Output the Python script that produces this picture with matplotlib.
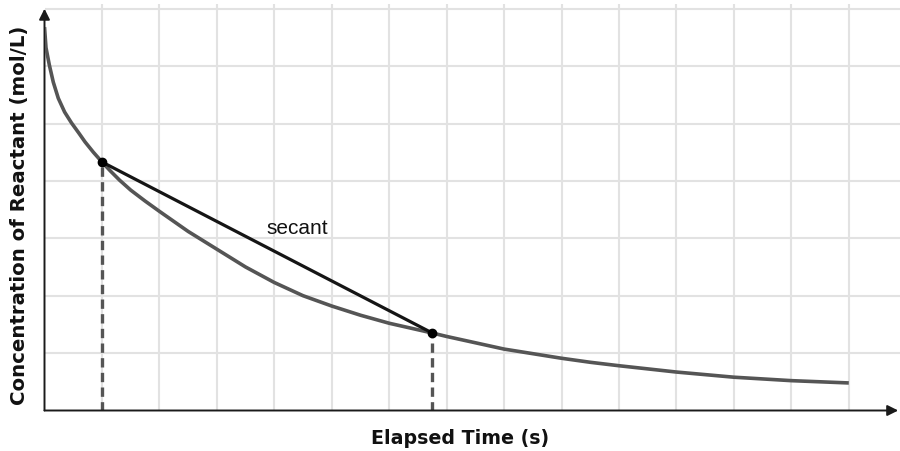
import matplotlib.pyplot as plt

# Valores (unidades = celdas de la cuadricula)
tiempo = [0, 0.026, 0.084, 0.153, 0.24, 0.35, 0.47, 0.6, 0.705, 0.85, 1.0, 1.15,
          1.31, 1.5, 1.75, 2.0, 2.5, 3.0, 3.5, 4.0, 4.5, 5.0, 5.5, 6.0, 6.75, 7.0,
          7.5, 8.0, 8.5, 9.0, 9.5, 10.0, 11.0, 12.0, 13.0, 14.0]
conc = [6.68, 6.32, 6.02, 5.72, 5.44, 5.20, 5.01, 4.83, 4.68, 4.50, 4.33, 4.17,
        4.01, 3.84, 3.65, 3.47, 3.12, 2.81, 2.50, 2.23, 2.00, 1.82, 1.66, 1.52, 1.35, 1.29,
        1.18, 1.07, 0.99, 0.91, 0.84, 0.78, 0.67, 0.58, 0.52, 0.48]
# Puntos de la secante
sec_t = [1.0, 6.75]
sec_c = [4.33, 1.35]
grid_x = list(range(1, 15))
grid_y = list(range(1, 8))

W, H = 900, 452
fig = plt.figure(figsize=(W / 100, H / 100), dpi=100)
left, bottom, top = 44.5, 411.5, 5
ax = fig.add_axes([left / W, (H - bottom) / H, (W - left) / W, (bottom - top) / H])
cell_x, cell_y = 57.45, 57.4
ax.set_xlim(0, (W - left) / cell_x)
ax.set_ylim(0, (bottom - top) / cell_y)

# Cuadricula
ax.set_xticks(grid_x)
ax.set_yticks(grid_y)
ax.set_xticklabels([])
ax.set_yticklabels([])
ax.tick_params(length=0)
ax.grid(True, color='#e2e2e2', lw=1.5)
ax.set_axisbelow(True)
for s in ax.spines.values():
    s.set_visible(False)

# Ejes con flechas
ap = dict(arrowstyle='-|>', color='#1a1a1a', lw=1.4, mutation_scale=16, shrinkA=0, shrinkB=0)
ax.annotate('', xy=(0, 7.0), xytext=(0, 0), arrowprops=ap, annotation_clip=False)
ax.annotate('', xy=(14.86, 0), xytext=(0, 0), arrowprops=ap, annotation_clip=False)

# Curva
ax.plot(tiempo, conc, color='#555555', lw=2.6, solid_capstyle='butt',
        solid_joinstyle='round', zorder=3)

# Lineas punteadas verticales
for t, c in zip(sec_t, sec_c):
    ax.plot([t, t], [0, c], color='#555555', lw=2.4, ls=(0, (2.8, 1.6)), zorder=2)

# Secante
ax.plot(sec_t, sec_c, color='#151515', lw=2.3, zorder=4)
ax.plot(sec_t, sec_c, 'o', color='black', ms=6, zorder=5)
ax.text(4.4, 3.18, 'secant', fontsize=15, family='Liberation Sans',
        ha='center', va='center', color='#111111')

fig.text(460 / W, 1 - 439 / H, 'Elapsed Time (s)', ha='center', va='center',
         fontsize=13.7, fontweight='bold', family='DejaVu Sans', color='#111111')
fig.text(20 / W, 1 - 215 / H, 'Concentration of Reactant (mol/L)', ha='center', va='center',
         rotation=90, fontsize=14.2, fontweight='bold', family='DejaVu Sans', color='#111111')

fig.savefig('out.png', dpi=100)
